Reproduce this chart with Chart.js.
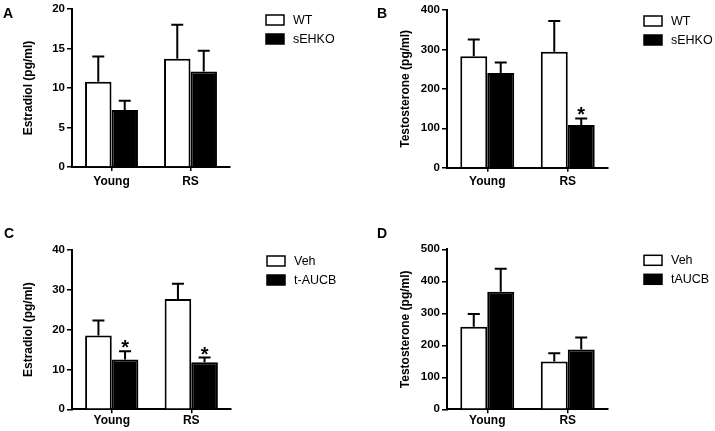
<!DOCTYPE html>
<html>
<head>
<meta charset="utf-8">
<script src="https://cdn.jsdelivr.net/npm/chart.js@4.4.1/dist/chart.umd.min.js"></script>
<style>
  body { margin: 0; background: #fff; }
  #wrap { position: relative; width: 715px; height: 431px; }
  canvas { position: absolute; }
</style>
</head>
<body>
<div id="wrap">
  <canvas id="chartA" width="355" height="215" style="left:0;top:0"></canvas>
  <canvas id="chartB" width="360" height="215" style="left:355px;top:0"></canvas>
  <canvas id="chartC" width="355" height="216" style="left:0;top:215px"></canvas>
  <canvas id="chartD" width="360" height="216" style="left:355px;top:215px"></canvas>
</div>
<script>
// data
var categories = ['Young', 'RS'];

var estradiolWT = [10.8, 13.7];
var estradiolWTErr = [3.2, 4.3];
var estradiolKO = [7.2, 12.1];
var estradiolKOErr = [1.2, 2.6];

var testosteroneWT = [283, 294];
var testosteroneWTErr = [42, 78];
var testosteroneKO = [240, 108];
var testosteroneKOErr = [27, 17];

var estradiolVeh = [18.5, 27.7];
var estradiolVehErr = [3.8, 3.8];
var estradiolAUCB = [12.5, 11.8];
var estradiolAUCBErr = [2.1, 1.2];

var testosteroneVeh = [258, 149];
var testosteroneVehErr = [40, 26];
var testosteroneAUCB = [367, 187];
var testosteroneAUCBErr = [72, 37];

var FONT = "'Liberation Sans', Arial, sans-serif";

// error bars, significance stars, legend and panel letter
var extras = {
  id: 'extras',
  afterDatasetsDraw: function(chart) {
    var ctx = chart.ctx;
    var y = chart.scales.y;
    chart.data.datasets.forEach(function(ds, i) {
      var meta = chart.getDatasetMeta(i);
      meta.data.forEach(function(bar, j) {
        var top = y.getPixelForValue(ds.data[j] + ds.errors[j]);
        ctx.save();
        ctx.strokeStyle = '#000';
        ctx.lineWidth = 2;
        ctx.beginPath();
        ctx.moveTo(bar.x, bar.y);
        ctx.lineTo(bar.x, top);
        ctx.moveTo(bar.x - 6, top);
        ctx.lineTo(bar.x + 6, top);
        ctx.stroke();
        if (ds.stars && ds.stars[j]) {
          ctx.fillStyle = '#000';
          ctx.font = 'bold 20px ' + FONT;
          ctx.textAlign = 'center';
          ctx.textBaseline = 'alphabetic';
          ctx.fillText('*', bar.x, top + 3);
        }
        ctx.restore();
      });
    });
  },
  afterDraw: function(chart, args, opts) {
    var ctx = chart.ctx;
    var area = chart.chartArea;
    ctx.save();
    chart.data.datasets.forEach(function(ds, i) {
      var bx = area.right + 36;
      var by = area.top + 6 + i * 19;
      ctx.fillStyle = ds.backgroundColor;
      ctx.fillRect(bx, by, 18, 10);
      ctx.strokeStyle = '#000';
      ctx.lineWidth = 1.5;
      ctx.strokeRect(bx, by, 18, 10);
      ctx.fillStyle = '#000';
      ctx.font = '12.5px ' + FONT;
      ctx.textAlign = 'left';
      ctx.textBaseline = 'middle';
      ctx.fillText(ds.label, bx + 27, by + 5.5);
    });
    ctx.font = 'bold 14px ' + FONT;
    ctx.textBaseline = 'alphabetic';
    ctx.fillText(opts.letter, opts.lx, opts.ly);
    ctx.restore();
  }
};

function makeChart(id, p) {
  new Chart(document.getElementById(id), {
    type: 'bar',
    data: {
      labels: categories,
      datasets: [
        { label: p.names[0], data: p.a, errors: p.aErr, backgroundColor: '#fff',
          borderColor: '#000', borderWidth: 2 },
        { label: p.names[1], data: p.b, errors: p.bErr, stars: p.stars, backgroundColor: '#000',
          borderColor: '#000', borderWidth: 2 }
      ]
    },
    options: {
      responsive: false,
      animation: false,
      categoryPercentage: 0.67,
      barPercentage: 1.0,
      layout: { padding: { top: p.padTop, right: p.padRight, left: 0, bottom: 0 } },
      plugins: {
        legend: { display: false },
        tooltip: { enabled: false },
        extras: { letter: p.letter, lx: p.lx, ly: p.ly }
      },
      scales: {
        x: {
          offset: true,
          grid: { display: true, drawOnChartArea: false, drawTicks: true, tickLength: 4,
                  offset: false, color: '#000', lineWidth: 1.5 },
          border: { display: true, color: '#000', width: 2 },
          ticks: { color: '#000', padding: p.xPad, font: { family: FONT, size: 12, weight: 'bold' } },
          afterFit: function(s) { s.height = p.xHeight; }
        },
        y: {
          min: 0,
          max: p.max,
          ticks: { stepSize: p.step, color: '#000', padding: 2,
                   font: { family: FONT, size: 11.5, weight: 'bold' } },
          grid: { display: true, drawOnChartArea: false, drawTicks: true, tickLength: 5,
                  color: '#000', lineWidth: 1.5 },
          border: { display: true, color: '#000', width: 2 },
          title: { display: true, text: p.title, color: '#000', padding: { top: p.titlePad, bottom: 0 },
                   font: { family: FONT, size: 12, weight: 'bold' } },
          afterFit: function(s) { s.width = p.yWidth; }
        }
      }
    },
    plugins: [extras]
  });
}

makeChart('chartA', {
  names: ['WT', 'sEHKO'], a: estradiolWT, aErr: estradiolWTErr, b: estradiolKO, bErr: estradiolKOErr,
  stars: [false, false], max: 20, step: 5, title: 'Estradiol (pg/ml)',
  yWidth: 72, padTop: 9, padRight: 125, xHeight: 48, xPad: 3, titlePad: 21,
  letter: 'A', lx: 3, ly: 17.5
});
makeChart('chartB', {
  names: ['WT', 'sEHKO'], a: testosteroneWT, aErr: testosteroneWTErr, b: testosteroneKO, bErr: testosteroneKOErr,
  stars: [false, true], max: 400, step: 100, title: 'Testosterone (pg/ml)',
  yWidth: 92, padTop: 10, padRight: 107, xHeight: 47.3, xPad: 3, titlePad: 43,
  letter: 'B', lx: 22, ly: 18
});
makeChart('chartC', {
  names: ['Veh', 't-AUCB'], a: estradiolVeh, aErr: estradiolVehErr, b: estradiolAUCB, bErr: estradiolAUCBErr,
  stars: [true, true], max: 40, step: 10, title: 'Estradiol (pg/ml)',
  yWidth: 72, padTop: 35, padRight: 124, xHeight: 21.7, xPad: 0, titlePad: 21,
  letter: 'C', lx: 4, ly: 23
});
makeChart('chartD', {
  names: ['Veh', 'tAUCB'], a: testosteroneVeh, aErr: testosteroneVehErr, b: testosteroneAUCB, bErr: testosteroneAUCBErr,
  stars: [false, false], max: 500, step: 100, title: 'Testosterone (pg/ml)',
  yWidth: 92, padTop: 34.3, padRight: 107, xHeight: 21.7, xPad: 0, titlePad: 43,
  letter: 'D', lx: 22, ly: 23
});
</script>
</body>
</html>
